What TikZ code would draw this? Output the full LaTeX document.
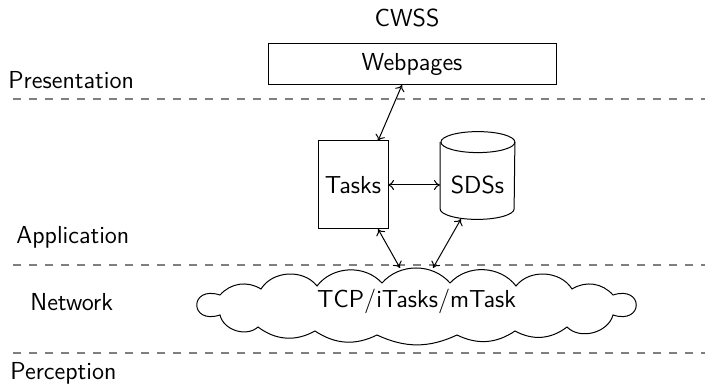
\documentclass[tikz,border=0pt]{standalone}
\usetikzlibrary{arrows.meta}
\begin{document}
\begin{tikzpicture}[x=0.5pt,y=-0.5pt,
  font=\sffamily\fontsize{12.3}{14}\selectfont,
  layer/.style={draw=gray, line width=0.8pt, dash pattern=on 4pt off 4pt},
  lbl/.style={inner sep=0pt},
  box/.style={draw, line width=0.5pt, inner sep=0pt},
  outline/.style={draw, line width=0.5pt},
  link/.style={<->, >={To[length=3pt,width=5pt]}, line width=0.5pt}]
\useasboundingbox (0,0) rectangle (705,384);

% layer separators
\draw[layer] (13,99) -- (705,99);
\draw[layer] (13,265) -- (705,265);
\draw[layer] (13,353) -- (705,353);

% layer names
\node[lbl, anchor=west] (pres) at (8,80) {Presentation};
\node[lbl, anchor=west] (app) at (16,237) {Application};
\node[lbl, anchor=west] (net) at (30,302) {Network};
\node[lbl, anchor=west] (perc) at (10,373) {Perception};

% title
\node[lbl] (title) at (407,18) {CWSS};

% components
\node[box, minimum width=144pt, minimum height=20.5pt] (web) at (412,64.5) {Webpages};
\node[box, minimum width=35pt, minimum height=44pt] (tasks) at (353,185) {Tasks};

% data store drawn as a cylinder around an invisible frame
\node[inner sep=0pt, minimum width=37pt, minimum height=43.5pt] (sds) at (477.5,175.5) {};
\draw[outline]
  ([yshift=-5.25pt]sds.north west) -- ([yshift=5.25pt]sds.south west)
  arc[start angle=180, end angle=360, x radius=18.5pt, y radius=5.25pt]
  -- ([yshift=-5.25pt]sds.north east)
  arc[start angle=0, end angle=180, x radius=18.5pt, y radius=5.25pt];
\draw[outline] ([yshift=-5.25pt]sds.north east)
  arc[start angle=0, end angle=-180, x radius=18.5pt, y radius=5.25pt];
\node[lbl] (sdstext) at (477.5,185) {SDSs};

% network cloud: puffs between valley points, clockwise
\node[lbl] (cloud) at (416.5,301) {TCP/iTasks/mTask};
\draw[outline]
  (220,295) to[bend left=40] (261,289)
            to[bend left=55] (317,286)
            to[bend left=50] (382,283)
            to[bend left=49] (450,283)
            to[bend left=50] (516,286)
            to[bend left=55] (572,289)
            to[bend left=40] (613,295)
            .. controls (644,285) and (644,325) .. (613,315)
            to[bend left=60] (567,327)
            to[bend left=33] (515,331)
            to[bend left=30] (457,335)
            to[bend left=25] (377,335)
            to[bend left=30] (315,331)
            to[bend left=33] (258,327)
            to[bend left=60] (220,315)
            .. controls (189,325) and (189,285) .. (220,295) -- cycle;

% connectors
\coordinate (webin) at (402,85);
\coordinate (taskstop) at (378,141);
\coordinate (tasksbot) at (378,229);
\coordinate (cloudA) at (400,268);
\coordinate (cloudB) at (433,268);
\coordinate (sdsbot) at (461,219);
\coordinate (tasksr) at (388,185);
\coordinate (sdsl) at (440,185);
\draw[link] (taskstop) -- (webin);
\draw[link] (tasksr) -- (sdsl);
\draw[link] (tasksbot) -- (cloudA);
\draw[link] (sdsbot) -- (cloudB);
\end{tikzpicture}
\end{document}
